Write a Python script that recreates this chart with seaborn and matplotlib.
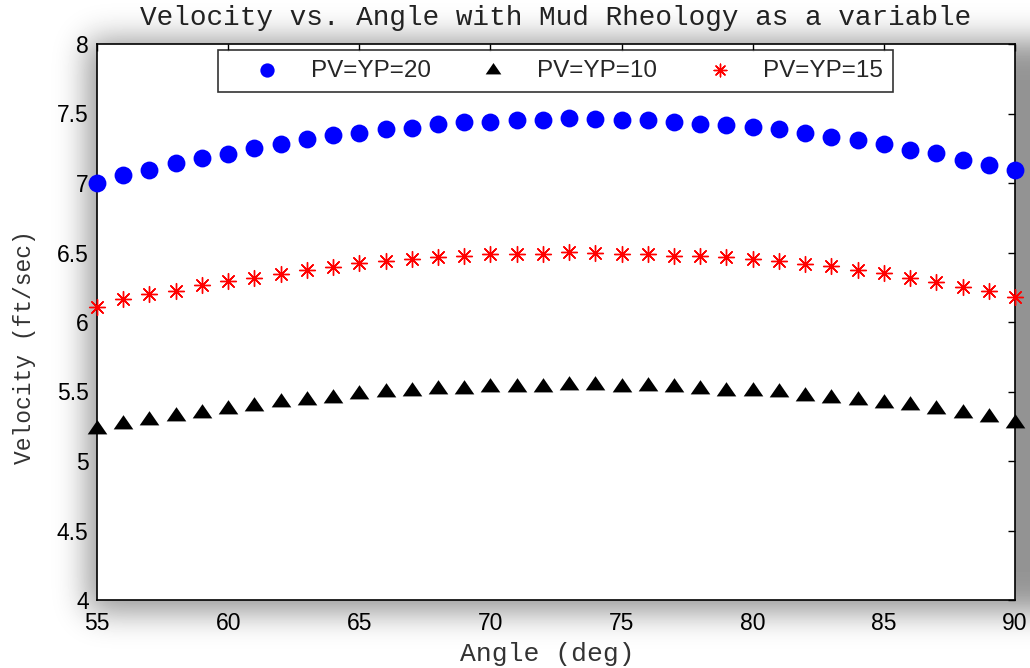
import numpy as np
import pandas as pd
import matplotlib
matplotlib.use('Agg')
import matplotlib.pyplot as plt
import seaborn as sns

# Dados
angle = list(range(55, 91))
vel_pv20 = [7.00, 7.056, 7.092, 7.145, 7.183, 7.207, 7.253, 7.279, 7.32, 7.345,
            7.36, 7.386, 7.398, 7.424, 7.439, 7.439, 7.452, 7.452, 7.468, 7.464,
            7.452, 7.452, 7.44, 7.425, 7.414, 7.40, 7.385, 7.358, 7.332, 7.308,
            7.284, 7.241, 7.214, 7.169, 7.13, 7.092]
vel_pv10 = [5.227, 5.267, 5.294, 5.322, 5.346, 5.373, 5.399, 5.425, 5.442, 5.454,
            5.483, 5.495, 5.507, 5.52, 5.52, 5.533, 5.533, 5.533, 5.548, 5.548,
            5.533, 5.536, 5.533, 5.52, 5.507, 5.507, 5.495, 5.466, 5.454, 5.439,
            5.416, 5.40, 5.375, 5.347, 5.319, 5.27]
vel_pv15 = [6.11, 6.167, 6.198, 6.222, 6.263, 6.292, 6.318, 6.347, 6.371, 6.395,
            6.424, 6.438, 6.455, 6.467, 6.478, 6.486, 6.486, 6.491, 6.502, 6.50,
            6.491, 6.491, 6.478, 6.473, 6.466, 6.45, 6.438, 6.419, 6.402, 6.371,
            6.351, 6.318, 6.289, 6.25, 6.222, 6.18]
series_labels = ['PV=YP=20', 'PV=YP=10', 'PV=YP=15']
x_ticks = [55, 60, 65, 70, 75, 80, 85, 90]
y_ticks = [4, 4.5, 5, 5.5, 6, 6.5, 7, 7.5, 8]

df = pd.DataFrame({'angle': angle, 'pv20': vel_pv20,
                   'pv10': vel_pv10, 'pv15': vel_pv15})

sns.set_style('white')
plt.rcParams['font.family'] = ['Liberation Sans', 'DejaVu Sans']
plt.rcParams['xtick.direction'] = 'in'
plt.rcParams['ytick.direction'] = 'in'

W, H = 1030, 668
fig = plt.figure(figsize=(W / 100, H / 100), dpi=100)
fig.patch.set_facecolor('white')

# Sombra desfocada em volta do gráfico (efeito da figura original)
bg = fig.add_axes([0, 0, 1, 1], zorder=-5)
mask = np.zeros((H, W))
mask[40:612, 88:] = 1.0
sigma = 16
k = np.arange(-3 * sigma, 3 * sigma + 1)
kern = np.exp(-0.5 * (k / sigma) ** 2)
kern /= kern.sum()
pad = 3 * sigma
m = np.pad(mask, pad, mode='edge')
m = np.apply_along_axis(lambda r: np.convolve(r, kern, mode='same'), 1, m)
m = np.apply_along_axis(lambda c: np.convolve(c, kern, mode='same'), 0, m)
m = m[pad:-pad, pad:-pad]
shade = 1 - 0.42 * m
bg.imshow(shade, cmap='gray', vmin=0, vmax=1, extent=(0, W, H, 0),
          aspect='auto', interpolation='bilinear')
bg.set_xlim(0, W)
bg.set_ylim(H, 0)
bg.axis('off')

ax = fig.add_axes([97 / W, 1 - 600 / H, 918 / W, 556 / H])
ax.set_facecolor('white')

tri = [(-1, -0.5), (1, -0.5), (0, 0.95)]
sns.scatterplot(data=df, x='angle', y='pv20', ax=ax, color='#0000ff',
                marker='o', s=165, linewidth=0, label=series_labels[0],
                clip_on=False, zorder=3)
sns.scatterplot(data=df, x='angle', y='pv10', ax=ax, color='black',
                marker=tri, s=200, linewidth=0, label=series_labels[1],
                clip_on=False, zorder=3)
sns.scatterplot(data=df, x='angle', y='pv15', ax=ax, color='#ff0000',
                marker=(8, 2, 0), s=130, linewidth=1.0, label=series_labels[2],
                clip_on=False, zorder=3)

ax.set_xlim(55, 90)
ax.set_ylim(4, 8)
ax.set_xticks(x_ticks)
ax.set_yticks(y_ticks)
ax.set_xticklabels([str(t) for t in x_ticks])
ax.set_yticklabels([f'{t:g}' for t in y_ticks])
ax.tick_params(axis='both', which='major', labelsize=16.5, length=5, width=1,
               top=True, right=True, color='black', labelcolor='black', pad=6)
ax.tick_params(axis='x', pad=9)
for sp in ax.spines.values():
    sp.set_visible(True)
    sp.set_color('black')
    sp.set_linewidth(1.2)

mono = ['Liberation Mono', 'DejaVu Sans Mono']
ax.set_title('Velocity vs. Angle with Mud Rheology as a variable',
             fontsize=20, family=mono, color='#222222', pad=14)
ax.set_xlabel('Angle (deg)', fontsize=19, family=mono, color='#333333')
ax.set_ylabel('Velocity (ft/sec)', fontsize=16.5, family=mono, color='#333333')
ax.xaxis.set_label_coords(0.49, -0.076)
ax.yaxis.set_label_coords(-0.066, 0.455)

leg = ax.legend(loc='upper left', bbox_to_anchor=(0.132, 0.989, 0.735, 0.0),
                mode='expand', ncol=3, fontsize=17.5, frameon=True,
                fancybox=False, shadow=False, borderpad=0.4, borderaxespad=0,
                handlelength=3.2, handletextpad=0.2, columnspacing=1.0,
                markerscale=0.8)
leg.get_frame().set_edgecolor('black')
leg.get_frame().set_linewidth(1.2)

fig.savefig('out.png', dpi=100)
